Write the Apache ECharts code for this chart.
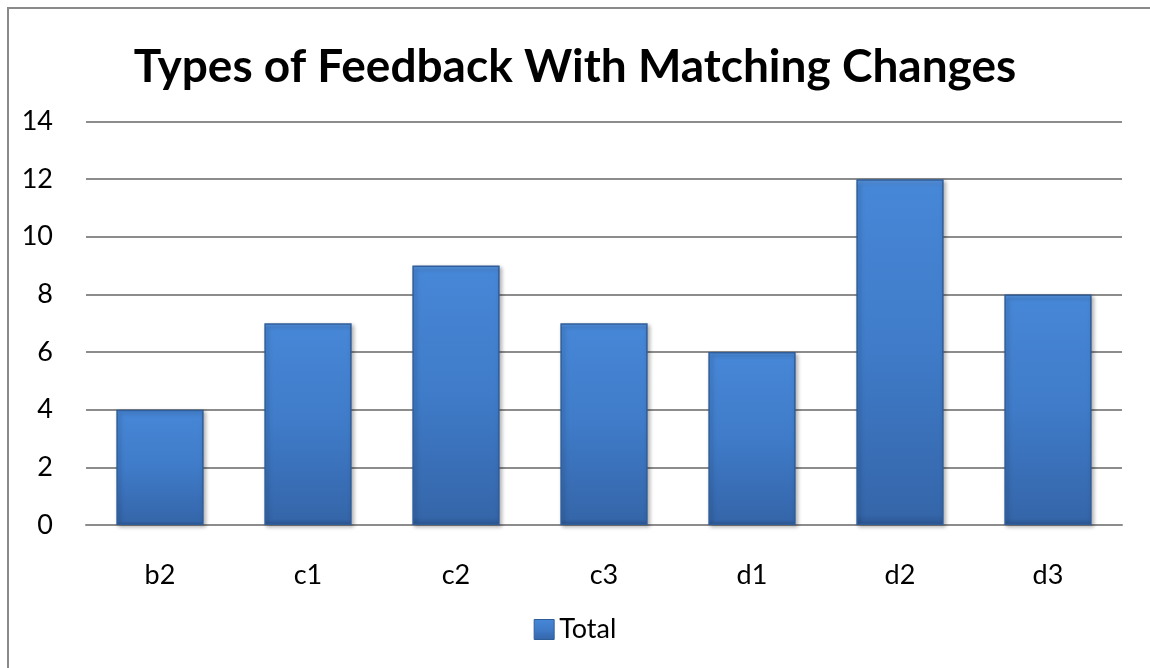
<!DOCTYPE html>
<html><head><meta charset="utf-8">
<script src="https://cdn.jsdelivr.net/npm/echarts@6/dist/echarts.min.js"></script>
<style>
html,body{margin:0;padding:0;background:#fff;}
#frame{position:absolute;left:7px;top:7px;width:1160px;height:680px;border:2px solid #8a8a8a;box-sizing:border-box;}
#chart{position:absolute;left:0;top:0;width:1150px;height:668px;}
</style></head>
<body>
<div id="frame"></div>
<div id="chart"></div>
<script>
const titleText = "Types of Feedback With Matching Changes";
const categories = ["b2","c1","c2","c3","d1","d2","d3"];
const totals = [4,7,9,7,6,12,8];
const seriesName = "Total";

const chart = echarts.init(document.getElementById('chart'), null, {renderer:'canvas'});
const barFill = new echarts.graphic.LinearGradient(0,0,0,1,[
  {offset:0,color:'#5d9ae6'},
  {offset:0.02,color:'#4787d7'},
  {offset:0.5,color:'#3f7bc8'},
  {offset:0.97,color:'#3566aa'},
  {offset:1,color:'#2b5590'}
]);
chart.setOption({
  animation:false,
  title:{text:titleText,left:'center',top:39,textStyle:{fontFamily:'Lato',fontWeight:'bold',fontSize:46,color:'#000'}},
  grid:{left:86,right:28,top:121.5,bottom:143,containLabel:false},
  legend:{bottom:20,left:'center',itemWidth:20,itemHeight:20,itemGap:8,itemStyle:{borderColor:'#2f5d9a',borderWidth:1},
    textStyle:{fontFamily:'Lato',fontSize:27,color:'#000'},
    data:[{name:seriesName,icon:'rect'}]},
  xAxis:{type:'category',data:categories,
    axisLine:{lineStyle:{color:'#8c8c8c',width:2}},axisTick:{show:false},
    axisLabel:{fontFamily:'Lato',fontSize:27,color:'#000',margin:37}},
  yAxis:{type:'value',min:0,max:14,interval:2,
    axisLine:{show:false},axisTick:{show:false},
    splitLine:{lineStyle:{color:'#8c8c8c',width:2}},
    axisLabel:{fontFamily:'Lato',fontSize:27,color:'#000',margin:33,align:'right'}},
  series:[{name:seriesName,type:'bar',data:totals,barWidth:'59%',
    itemStyle:{color:barFill,borderColor:'#2f5d9a',borderWidth:1.5,shadowColor:'rgba(0,0,0,0.3)',shadowBlur:4,shadowOffsetX:2,shadowOffsetY:2}}]
});
</script>
</body></html>
